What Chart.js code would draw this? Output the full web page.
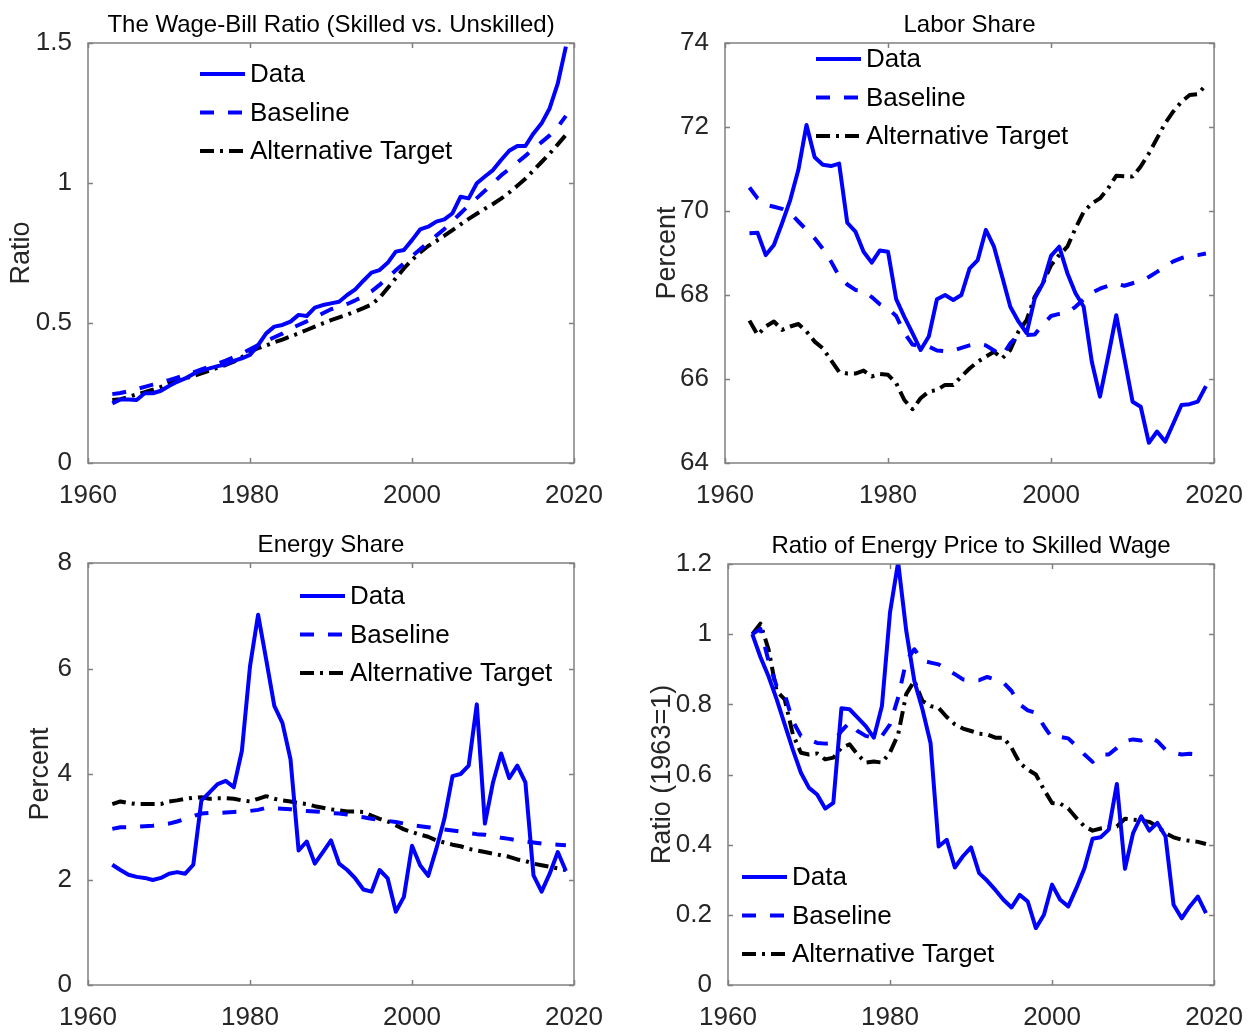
<!DOCTYPE html>
<html>
<head>
<meta charset="utf-8">
<title>Wage-bill ratio, labor share, energy share, energy price</title>
<script src="https://cdn.jsdelivr.net/npm/chart.js@4.4.1/dist/chart.umd.min.js"></script>
<style>
  html, body { margin: 0; padding: 0; background: #fff; }
  #page { position: relative; width: 1252px; height: 1032px; }
  #page canvas { position: absolute; }
</style>
</head>
<body>
<div id="page">
  <canvas id="c1" width="626" height="516" style="left:0;top:0"></canvas>
  <canvas id="c2" width="626" height="516" style="left:626px;top:0"></canvas>
  <canvas id="c3" width="626" height="516" style="left:0;top:516px"></canvas>
  <canvas id="c4" width="626" height="516" style="left:626px;top:516px"></canvas>
</div>
<script>
// ---------- data (1963-2019) ----------
const years = [1963,1964,1965,1966,1967,1968,1969,1970,1971,1972,
  1973,1974,1975,1976,1977,1978,1979,1980,1981,1982,
  1983,1984,1985,1986,1987,1988,1989,1990,1991,1992,
  1993,1994,1995,1996,1997,1998,1999,2000,2001,2002,
  2003,2004,2005,2006,2007,2008,2009,2010,2011,2012,
  2013,2014,2015,2016,2017,2018,2019];

const xTicks = [1960, 1980, 2000, 2020];
const wageTicks = [0, 0.5, 1, 1.5];
const laborTicks = [64, 66, 68, 70, 72, 74];
const energyTicks = [0, 2, 4, 6, 8];
const priceTicks = [0, 0.2, 0.4, 0.6, 0.8, 1, 1.2];

const seriesNames = ['Data', 'Baseline', 'Alternative Target'];

// wage-bill ratio
const wageData = [0.213,0.227,0.227,0.225,0.249,0.249,0.258,0.275,0.290,0.302,
  0.318,0.330,0.338,0.346,0.352,0.365,0.374,0.386,0.421,0.463,
  0.487,0.493,0.505,0.529,0.525,0.555,0.564,0.570,0.576,0.600,
  0.620,0.651,0.680,0.689,0.715,0.755,0.761,0.796,0.834,0.844,
  0.862,0.870,0.892,0.951,0.945,0.999,1.023,1.046,1.082,1.115,
  1.132,1.132,1.177,1.213,1.267,1.356,1.487];
const wageBaseline = [0.246,0.250,0.256,0.264,0.272,0.280,0.288,0.296,0.305,0.314,
  0.324,0.334,0.344,0.355,0.366,0.378,0.391,0.406,0.421,0.436,
  0.449,0.462,0.480,0.493,0.506,0.520,0.535,0.549,0.558,0.568,
  0.581,0.595,0.613,0.636,0.662,0.688,0.713,0.738,0.763,0.788,
  0.812,0.836,0.864,0.892,0.920,0.946,0.972,1.000,1.027,1.050,
  1.073,1.097,1.122,1.146,1.170,1.200,1.240];
const wageAlt = [0.225,0.228,0.236,0.245,0.253,0.262,0.272,0.284,0.293,0.302,
  0.311,0.320,0.330,0.340,0.350,0.362,0.378,0.398,0.410,0.420,
  0.431,0.441,0.452,0.463,0.475,0.487,0.499,0.510,0.520,0.530,
  0.541,0.553,0.566,0.590,0.625,0.660,0.695,0.725,0.752,0.775,
  0.793,0.812,0.832,0.852,0.872,0.890,0.908,0.925,0.944,0.966,
  0.990,1.015,1.045,1.075,1.105,1.138,1.172];

// labor share
const laborData = [69.47,69.48,68.95,69.19,69.71,70.26,70.98,72.05,71.28,71.10,
  71.07,71.13,69.72,69.51,69.03,68.77,69.06,69.03,67.90,67.48,
  67.09,66.69,67.01,67.90,68.00,67.88,68.00,68.63,68.83,69.55,
  69.15,68.44,67.72,67.37,67.09,67.92,68.28,68.93,69.15,68.52,
  68.04,67.72,66.41,65.58,66.53,67.52,66.49,65.46,65.34,64.48,
  64.75,64.51,64.94,65.38,65.40,65.46,65.83];
const laborBaseline = [70.56,70.30,70.15,70.10,70.05,69.95,69.75,69.55,69.35,69.10,
  68.80,68.45,68.25,68.12,68.10,67.95,67.78,67.68,67.50,67.10,
  66.82,66.78,66.77,66.68,66.66,66.68,66.74,66.80,66.84,66.80,
  66.68,66.55,66.85,67.05,67.05,67.06,67.30,67.50,67.55,67.58,
  67.72,67.90,68.05,68.15,68.22,68.27,68.22,68.28,68.33,68.43,
  68.55,68.68,68.80,68.88,68.93,68.95,68.99];
const laborAlt = [67.39,67.05,67.25,67.37,67.17,67.25,67.31,67.13,66.89,66.73,
  66.45,66.17,66.13,66.13,66.20,66.06,66.12,66.10,65.90,65.50,
  65.28,65.54,65.70,65.74,65.86,65.86,66.06,66.25,66.41,66.53,
  66.65,66.49,66.69,67.13,67.40,67.96,68.28,68.71,68.95,69.15,
  69.59,69.98,70.18,70.30,70.54,70.84,70.83,70.82,71.06,71.37,
  71.73,72.09,72.37,72.60,72.76,72.78,73.00];

// energy share
const energyData = [2.28,2.18,2.09,2.05,2.03,1.99,2.03,2.11,2.14,2.11,
  2.28,3.50,3.65,3.81,3.87,3.75,4.44,6.04,7.02,6.17,
  5.29,4.97,4.28,2.55,2.72,2.30,2.52,2.74,2.30,2.18,
  2.02,1.81,1.77,2.18,2.02,1.39,1.67,2.64,2.27,2.07,
  2.58,3.15,3.96,4.00,4.16,5.32,3.06,3.84,4.39,3.92,
  4.16,3.84,2.08,1.77,2.11,2.52,2.16];
const energyBaseline = [2.96,2.99,2.99,3.00,3.01,3.02,3.04,3.06,3.10,3.15,
  3.20,3.25,3.26,3.26,3.27,3.28,3.29,3.30,3.32,3.36,
  3.35,3.34,3.33,3.31,3.30,3.29,3.28,3.26,3.25,3.23,
  3.20,3.18,3.15,3.13,3.11,3.09,3.06,3.03,3.01,2.99,
  2.97,2.95,2.93,2.91,2.88,2.86,2.85,2.82,2.79,2.77,
  2.74,2.72,2.70,2.68,2.67,2.66,2.65];
const energyAlt = [3.43,3.48,3.45,3.43,3.43,3.43,3.43,3.48,3.50,3.53,
  3.55,3.56,3.53,3.54,3.54,3.53,3.50,3.48,3.53,3.58,
  3.53,3.50,3.48,3.45,3.43,3.39,3.36,3.33,3.31,3.29,
  3.29,3.28,3.21,3.15,3.10,3.03,2.95,2.90,2.85,2.81,
  2.74,2.70,2.66,2.63,2.58,2.55,2.52,2.49,2.46,2.43,
  2.38,2.35,2.30,2.27,2.24,2.21,2.18];

// energy price / skilled wage (1963 = 1)
const priceData = [1.000,0.935,0.880,0.815,0.743,0.671,0.605,0.562,0.543,0.503,
  0.519,0.789,0.786,0.762,0.738,0.705,0.795,1.062,1.205,1.010,
  0.867,0.786,0.690,0.395,0.414,0.335,0.367,0.392,0.319,0.297,
  0.271,0.243,0.221,0.257,0.238,0.162,0.200,0.286,0.243,0.224,
  0.276,0.333,0.417,0.421,0.443,0.573,0.331,0.433,0.481,0.440,
  0.462,0.424,0.229,0.190,0.224,0.252,0.205];
const priceBaseline = [1.000,1.015,0.924,0.852,0.829,0.752,0.710,0.700,0.690,0.688,
  0.690,0.724,0.748,0.724,0.710,0.705,0.710,0.743,0.819,0.924,
  0.957,0.924,0.919,0.914,0.900,0.886,0.871,0.869,0.869,0.878,
  0.871,0.862,0.838,0.800,0.783,0.776,0.738,0.705,0.707,0.703,
  0.681,0.657,0.636,0.657,0.657,0.676,0.695,0.700,0.697,0.707,
  0.695,0.671,0.662,0.657,0.659,0.657,0.655];
const priceAlt = [1.000,1.030,0.957,0.838,0.814,0.715,0.662,0.657,0.660,0.643,
  0.648,0.676,0.686,0.657,0.634,0.637,0.634,0.663,0.714,0.829,
  0.867,0.810,0.795,0.790,0.764,0.743,0.731,0.724,0.716,0.714,
  0.705,0.705,0.676,0.633,0.614,0.600,0.557,0.519,0.517,0.503,
  0.476,0.452,0.440,0.446,0.450,0.452,0.474,0.471,0.469,0.465,
  0.452,0.433,0.421,0.414,0.411,0.408,0.402];

// ---------- styles ----------
const FONT = "'Liberation Sans', Arial, Helvetica, sans-serif";
const BLUE = '#0000ff';
const styles = [
  { color: BLUE, dash: [] },
  { color: BLUE, dash: [14, 14] },
  { color: '#000000', dash: [14, 6, 3, 6] }
];

// chaque panneau : ses series, ses ticks et la place de sa zone de trace
const panels = [
  { id: 'c1', title: 'The Wage-Bill Ratio (Skilled vs. Unskilled)', ylabel: 'Ratio',
    series: [wageData, wageBaseline, wageAlt], yTicks: wageTicks,
    area: { left: 88, top: 43, right: 574, bottom: 463 }, ylabelX: 22, legend: { x: 200, y: 74 } },
  { id: 'c2', title: 'Labor Share', ylabel: 'Percent',
    series: [laborData, laborBaseline, laborAlt], yTicks: laborTicks,
    area: { left: 99, top: 43, right: 589, bottom: 463 }, ylabelX: 42, legend: { x: 190, y: 59 } },
  { id: 'c3', title: 'Energy Share', ylabel: 'Percent',
    series: [energyData, energyBaseline, energyAlt], yTicks: energyTicks,
    area: { left: 88, top: 47, right: 574, bottom: 469 }, ylabelX: 41, legend: { x: 300, y: 80 } },
  { id: 'c4', title: 'Ratio of Energy Price to Skilled Wage', ylabel: 'Ratio (1963=1)',
    series: [priceData, priceBaseline, priceAlt], yTicks: priceTicks,
    area: { left: 102, top: 48, right: 589, bottom: 469 }, ylabelX: 37, legend: { x: 116, y: 361 } }
];

// Cadre, petits ticks vers l'interieur, titre, label y et legende
const framePlugin = {
  id: 'frame',
  afterDraw(chart, args, opts) {
    const { ctx, chartArea: a, scales: { x, y } } = chart;
    ctx.save();

    // box
    ctx.strokeStyle = '#808080';
    ctx.lineWidth = 1.5;
    ctx.setLineDash([]);
    ctx.strokeRect(a.left, a.top, a.right - a.left, a.bottom - a.top);

    // inward ticks
    const tl = 5;
    ctx.beginPath();
    x.ticks.forEach(t => {
      const px = Math.round(x.getPixelForValue(t.value)) + 0.5;
      ctx.moveTo(px, a.bottom); ctx.lineTo(px, a.bottom - tl);
      ctx.moveTo(px, a.top); ctx.lineTo(px, a.top + tl);
    });
    y.ticks.forEach(t => {
      const py = Math.round(y.getPixelForValue(t.value)) + 0.5;
      ctx.moveTo(a.left, py); ctx.lineTo(a.left + tl, py);
      ctx.moveTo(a.right, py); ctx.lineTo(a.right - tl, py);
    });
    ctx.stroke();

    // title
    ctx.fillStyle = '#000';
    ctx.font = '24px ' + FONT;
    ctx.textAlign = 'center';
    ctx.textBaseline = 'alphabetic';
    ctx.fillText(opts.title, (a.left + a.right) / 2, a.top - 11);

    // y label
    ctx.save();
    ctx.translate(opts.ylabelX, (a.top + a.bottom) / 2);
    ctx.rotate(-Math.PI / 2);
    ctx.fillStyle = '#262626';
    ctx.font = '27px ' + FONT;
    ctx.textBaseline = 'middle';
    ctx.fillText(opts.ylabel, 0, 0);
    ctx.restore();

    // legend (pas de fond, comme l'original)
    const lg = opts.legend;
    chart.data.datasets.forEach((ds, i) => {
      const ly = lg.y + i * 38.5;
      ctx.beginPath();
      ctx.strokeStyle = ds.borderColor;
      ctx.lineWidth = ds.borderWidth;
      ctx.setLineDash(ds.borderDash || []);
      ctx.lineCap = 'butt';
      ctx.moveTo(lg.x, ly);
      ctx.lineTo(lg.x + 45, ly);
      ctx.stroke();
      ctx.setLineDash([]);
      ctx.fillStyle = '#000';
      ctx.font = '26px ' + FONT;
      ctx.textAlign = 'left';
      ctx.textBaseline = 'middle';
      ctx.fillText(ds.label, lg.x + 50, ly + 1);
    });

    ctx.restore();
  }
};

panels.forEach(p => {
  const canvas = document.getElementById(p.id);
  const W = canvas.width, H = canvas.height;
  const datasets = p.series.map((vals, i) => ({
    label: seriesNames[i],
    data: years.map((yr, k) => ({ x: yr, y: vals[k] })),
    borderColor: styles[i].color,
    borderWidth: 4,
    borderDash: styles[i].dash,
    borderCapStyle: 'butt',
    borderJoinStyle: 'round',
    pointRadius: 0,
    fill: false,
    tension: 0
  }));

  new Chart(canvas, {
    type: 'line',
    data: { datasets: datasets },
    plugins: [framePlugin],
    options: {
      responsive: false,
      animation: false,
      devicePixelRatio: 1,
      layout: {
        autoPadding: false,
        padding: { left: 0, top: p.area.top, right: W - p.area.right, bottom: 0 }
      },
      plugins: {
        legend: { display: false },
        tooltip: { enabled: false },
        title: { display: false },
        frame: { title: p.title, ylabel: p.ylabel, ylabelX: p.ylabelX, legend: p.legend }
      },
      scales: {
        x: {
          type: 'linear',
          min: xTicks[0],
          max: xTicks[xTicks.length - 1],
          afterBuildTicks: s => { s.ticks = xTicks.map(v => ({ value: v })); },
          afterFit: s => { s.height = H - p.area.bottom; },
          grid: { display: false },
          border: { display: false },
          ticks: {
            padding: 9,
            maxRotation: 0,
            autoSkip: false,
            color: '#262626',
            font: { family: FONT, size: 26 },
            callback: v => String(v)
          }
        },
        y: {
          type: 'linear',
          min: p.yTicks[0],
          max: p.yTicks[p.yTicks.length - 1],
          afterBuildTicks: s => { s.ticks = p.yTicks.map(v => ({ value: v })); },
          afterFit: s => { s.width = p.area.left; },
          grid: { display: false },
          border: { display: false },
          ticks: {
            padding: 8,
            autoSkip: false,
            color: '#262626',
            font: { family: FONT, size: 26 },
            callback: v => String(v)
          }
        }
      }
    }
  });
});
</script>
</body>
</html>
